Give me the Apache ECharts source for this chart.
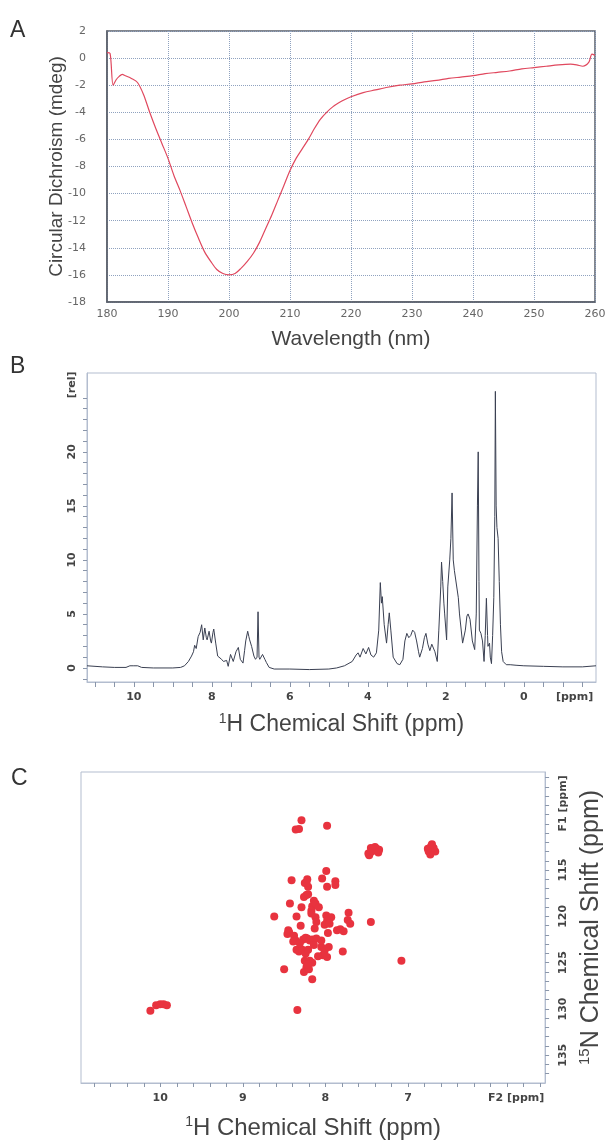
<!DOCTYPE html>
<html><head><meta charset="utf-8">
<script src="https://cdn.jsdelivr.net/npm/echarts@6/dist/echarts.min.js"></script>
<style>html,body{margin:0;padding:0;background:#fff}#c{width:613px;height:1143px}</style>
</head><body><div id="c"></div>
<script>
// ---- Panel A: circular dichroism ----
const cdWavelength = [180,180.5,181,181.5,182,182.5,183,184,185,186,187,188,189,190,191,192,193,194,195,196,197,198,199,200,201,202,203,204,205,206,207,208,209,210,211,212,213,214,215,216,217,218,219,220,222,224,226,228,230,232,234,236,238,240,242,244,246,248,250,252,254,256,257,258,259,259.5,260];
const cdValue = [0.4,0.35,-2.0,-1.6,-1.35,-1.2,-1.3,-1.5,-1.8,-2.7,-4.0,-5.2,-6.3,-7.4,-8.7,-9.8,-11.0,-12.2,-13.3,-14.3,-15.0,-15.6,-15.9,-16.0,-15.9,-15.5,-15.0,-14.4,-13.6,-12.6,-11.6,-10.5,-9.4,-8.3,-7.4,-6.7,-6.0,-5.2,-4.5,-4.0,-3.6,-3.3,-3.05,-2.85,-2.55,-2.35,-2.15,-2.0,-1.9,-1.75,-1.65,-1.5,-1.4,-1.3,-1.15,-1.05,-0.95,-0.8,-0.7,-0.6,-0.5,-0.45,-0.5,-0.6,-0.3,0.3,0.2];
const cdXTicks = [180,190,200,210,220,230,240,250,260];
const cdYTicks = [-18,-16,-14,-12,-10,-8,-6,-4,-2,0,2];

// ---- Panel B: 1H NMR ----
const nmrPpm = [11.2,10.8,10.5,10.2,10.1,10.05,10.0,9.95,9.9,9.87,9.8,9.5,9.0,8.8,8.7,8.6,8.52,8.47,8.44,8.4,8.35,8.3,8.26,8.22,8.18,8.14,8.12,8.07,8.03,8.01,7.97,7.95,7.9,7.85,7.8,7.75,7.7,7.67,7.62,7.58,7.52,7.45,7.38,7.32,7.27,7.2,7.16,7.13,7.08,7.05,7.03,6.98,6.92,6.88,6.84,6.815,6.79,6.77,6.7,6.64,6.6,6.53,6.4,6.0,5.5,5.0,4.8,4.6,4.4,4.3,4.25,4.2,4.12,4.05,3.98,3.92,3.85,3.78,3.72,3.68,3.65,3.63,3.58,3.52,3.48,3.45,3.41,3.35,3.25,3.18,3.1,3.05,3.0,2.95,2.9,2.85,2.8,2.75,2.7,2.67,2.6,2.55,2.51,2.46,2.41,2.36,2.33,2.28,2.22,2.18,2.13,2.11,2.08,2.05,2.03,1.98,1.95,1.9,1.87,1.84,1.81,1.78,1.73,1.68,1.65,1.57,1.5,1.46,1.43,1.38,1.32,1.26,1.22,1.19,1.17,1.15,1.14,1.1,1.06,1.02,0.99,0.96,0.93,0.92,0.88,0.86,0.83,0.8,0.77,0.745,0.73,0.71,0.69,0.66,0.63,0.6,0.57,0.53,0.45,0.35,0.2,0.0,-0.5,-1.0,-1.5,-1.85];
const nmrIntensity = [0.2,0.1,0.05,0.05,0.2,0.35,0.2,0.35,0.2,0.3,0.05,0.0,0.0,0.05,0.2,0.6,1.1,1.5,2.1,1.8,2.9,3.3,4.0,2.6,3.7,2.8,2.6,3.4,2.5,2.3,3.3,3.6,2.3,1.1,1.0,0.8,0.6,0.45,0.7,0.15,1.25,0.6,1.5,1.9,0.8,0.45,1.6,2.5,3.4,2.9,2.6,2.0,1.1,0.8,1.0,5.2,1.0,0.8,1.25,0.8,0.5,0.05,-0.1,-0.1,-0.15,-0.1,0.0,0.2,0.6,1.2,1.4,1.0,1.8,1.3,1.9,1.2,1.0,1.4,3.5,7.9,6.0,6.6,4.0,2.3,4.0,5.1,3.5,1.0,0.4,0.3,0.8,2.5,3.2,2.8,3.0,3.5,3.3,2.5,1.5,1.0,1.8,2.8,3.2,2.2,1.6,2.2,2.3,1.5,0.6,3.5,7.5,9.8,8.0,6.0,5.0,2.6,7.5,10,12,16.2,10,9.0,8.9,6.5,5.0,2.3,3.5,4.8,5.0,4.5,2.5,1.7,5,15,20.0,8,3.5,3.2,2.5,0.6,3.0,6.45,3.0,2.0,2.3,1.0,0.4,3.0,6.5,14,25.6,15,13,12,8,4,1.5,0.6,0.3,0.3,0.25,0.2,0.15,0.1,0.1,0.2];
const nmrXLabels = [10,8,6,4,2,0];
const nmrYLabels = [0,5,10,15,20];

// ---- Panel C: 1H-15N HSQC ----
const hsqcH = [8.29,8.36,8.32,7.98,7.48,7.45,7.42,7.38,7.35,7.47,7.44,7.40,7.36,6.75,6.72,6.70,6.67,6.73,6.69,6.76,6.71,7.99,8.04,8.41,8.22,8.25,8.21,8.23,7.88,7.88,7.98,8.23,8.26,8.21,8.14,8.16,8.17,8.12,8.43,8.29,8.62,8.35,8.17,8.12,8.11,7.99,7.93,7.98,8.01,7.95,7.72,7.73,7.70,7.45,8.45,8.46,8.44,8.38,8.36,8.39,8.27,8.22,8.16,8.11,8.24,8.19,8.13,7.97,7.86,7.82,7.78,8.35,8.32,8.28,8.24,8.21,8.05,8.01,8.03,7.96,7.79,7.98,8.25,8.19,8.23,8.26,8.20,8.16,8.22,8.50,7.08,8.16,8.34,8.30,8.08,8.05,8.31,8.09,8.14,10.12,10.05,10.00,9.96,9.92];
const hsqcN = [109.6,110.6,110.55,110.2,113.2,112.6,112.8,112.7,112.8,113.4,113.0,112.5,113.1,113.0,112.4,112.8,113.0,113.3,112.6,112.7,112.2,115.1,115.9,116.1,116.0,116.4,116.8,116.3,116.2,116.6,116.8,117.7,117.9,117.6,118.3,118.9,119.4,118.6,118.6,119.0,120.0,120.0,119.7,120.1,120.6,119.9,120.1,120.5,120.9,120.8,119.6,120.4,120.8,120.6,121.5,121.9,121.7,122.1,122.6,122.7,122.5,122.4,122.5,122.4,122.3,122.6,121.3,121.8,121.5,121.4,121.6,123.6,123.8,123.6,124.0,123.6,123.3,123.7,124.2,123.3,123.8,124.4,124.8,124.8,125.5,126.0,125.7,125.0,125.2,125.7,124.8,126.8,130.1,121.0,119.0,122.6,122.9,124.3,123.1,130.2,129.6,129.5,129.5,129.6];
const hsqcXLabels = [10,9,8,7];
const hsqcYLabels = [115,120,125,130,135];

function range(a, b, step) { const r = []; const n = Math.round((b - a) / step); for (let i = 0; i <= n; i++) r.push(+(a + i * step).toFixed(3)); return r; }

const titleFont = 'Liberation Sans';
const tickFont = 'DejaVu Sans';
const frameC = '#b3bdcf';

const chart = echarts.init(document.getElementById('c'), null, { renderer: 'canvas' });
chart.setOption({
  animation: false,
  backgroundColor: '#ffffff',
  graphic: [
    { type: 'text', left: 10, top: 19, style: { text: 'A', fontSize: 23, fontFamily: titleFont, fill: '#333' } },
    { type: 'text', left: 10, top: 355, style: { text: 'B', fontSize: 23, fontFamily: titleFont, fill: '#333' } },
    { type: 'text', left: 11, top: 767, style: { text: 'C', fontSize: 23, fontFamily: titleFont, fill: '#333' } }
  ],
  grid: [
    { left: 107, top: 31, width: 488, height: 271, show: true, borderColor: '#5a5f6a', borderWidth: 1.5, backgroundColor: 'transparent' },
    { left: 87, top: 373, width: 509, height: 309, show: true, borderColor: frameC, borderWidth: 1, backgroundColor: 'transparent' },
    { left: 81, top: 772, width: 472, height: 317, show: true, borderColor: frameC, borderWidth: 1, backgroundColor: 'transparent' }
  ],
  xAxis: [
    {
      gridIndex: 0, type: 'value', min: 180, max: 260, interval: 10,
      axisLine: { show: true, onZero: false, lineStyle: { color: '#5a5f6a', width: 1.5 } },
      axisTick: { show: false },
      axisLabel: { color: '#666', fontSize: 11, fontFamily: tickFont, margin: 7 },
      splitLine: { show: true, lineStyle: { type: 'dotted', color: '#8fa2bf', width: 1 } },
      name: 'Wavelength (nm)', nameLocation: 'middle', nameGap: 27,
      nameTextStyle: { fontSize: 21, fontFamily: titleFont, color: '#444' }
    },
    {
      gridIndex: 1, type: 'value', min: -1.85, max: 11.2, inverse: true,
      axisLine: { show: true, onZero: false, lineStyle: { color: frameC } },
      axisTick: { show: true, length: 5, customValues: range(-1.5, 11, 0.5), lineStyle: { color: '#8a96aa' } },
      axisLabel: { customValues: nmrXLabels.concat([-1.3]), color: '#444', fontSize: 11, fontWeight: 'bold', fontFamily: tickFont, margin: 10,
        formatter: v => (Math.abs(v + 1.3) < 1e-6 ? '[ppm]' : String(v)) },
      splitLine: { show: false },
      name: '{s|1}H Chemical Shift (ppm)', nameLocation: 'middle', nameGap: 30,
      nameTextStyle: { fontSize: 23, fontFamily: titleFont, color: '#444', lineHeight: 26,
        rich: { s: { fontSize: 14, fontFamily: titleFont, color: '#444', verticalAlign: 'top', lineHeight: 14 } } }
    },
    {
      gridIndex: 2, type: 'value', min: 5.34, max: 10.96, inverse: true,
      axisLine: { show: true, onZero: false, lineStyle: { color: frameC } },
      axisTick: { show: true, length: 4, customValues: range(5.4, 10.8, 0.2), lineStyle: { color: '#8a96aa' } },
      axisLabel: { customValues: hsqcXLabels.concat([5.69]), color: '#444', fontSize: 11, fontWeight: 'bold', fontFamily: tickFont, margin: 10,
        formatter: v => (Math.abs(v - 5.69) < 1e-6 ? 'F2 [ppm]' : String(v)) },
      splitLine: { show: false },
      name: '{s|1}H Chemical Shift (ppm)', nameLocation: 'middle', nameGap: 32,
      nameTextStyle: { fontSize: 24, fontFamily: titleFont, color: '#444', lineHeight: 27,
        rich: { s: { fontSize: 14, fontFamily: titleFont, color: '#444', verticalAlign: 'top', lineHeight: 14 } } }
    }
  ],
  yAxis: [
    {
      gridIndex: 0, type: 'value', min: -18, max: 2, interval: 2,
      axisLine: { show: true, onZero: false, lineStyle: { color: '#5a5f6a', width: 1.5 } },
      axisTick: { show: false },
      axisLabel: { color: '#666', fontSize: 11, fontFamily: tickFont, margin: 21 },
      splitLine: { show: true, lineStyle: { type: 'dotted', color: '#8fa2bf', width: 1 } },
      name: 'Circular Dichroism (mdeg)', nameLocation: 'middle', nameGap: 41, nameMoveOverlap: false,
      nameTextStyle: { fontSize: 19, fontFamily: titleFont, color: '#444' }
    },
    {
      gridIndex: 1, type: 'value', min: -1.3, max: 27.3,
      axisLine: { show: true, onZero: false, lineStyle: { color: frameC } },
      axisTick: { show: true, length: 4, customValues: range(-1, 25, 1), lineStyle: { color: '#8a96aa' } },
      axisLabel: { customValues: nmrYLabels.concat([26.2]), rotate: 90, color: '#444', fontSize: 11, fontWeight: 'bold', fontFamily: tickFont, margin: 9,
        formatter: v => (Math.abs(v - 26.2) < 1e-6 ? '[rel]' : String(v)) },
      splitLine: { show: false }
    },
    {
      gridIndex: 2, type: 'value', position: 'right', min: 104.4, max: 138, inverse: true,
      axisLine: { show: true, onZero: false, lineStyle: { color: frameC } },
      axisTick: { show: true, length: 4, customValues: range(105, 137, 1), lineStyle: { color: '#8a96aa' } },
      axisLabel: { customValues: hsqcYLabels.concat([107.8]), rotate: 90, color: '#444', fontSize: 11, fontWeight: 'bold', fontFamily: tickFont, margin: 13,
        formatter: v => (Math.abs(v - 107.8) < 1e-6 ? 'F1 [ppm]' : String(v)) },
      splitLine: { show: false },
      name: '{s|15}N Chemical Shift (ppm)', nameLocation: 'middle', nameGap: 26,
      nameTextStyle: { fontSize: 25, fontFamily: titleFont, color: '#444', lineHeight: 28,
        rich: { s: { fontSize: 15, fontFamily: titleFont, color: '#444', verticalAlign: 'top', lineHeight: 15 } } }
    }
  ],
  series: [
    {
      type: 'line', xAxisIndex: 0, yAxisIndex: 0, showSymbol: false, smooth: 0.3,
      lineStyle: { color: '#e0485e', width: 1.2 },
      data: cdWavelength.map((w, i) => [w, cdValue[i]])
    },
    {
      type: 'line', xAxisIndex: 1, yAxisIndex: 1, showSymbol: false,
      lineStyle: { color: '#3a4052', width: 1 },
      data: nmrPpm.map((p, i) => [p, nmrIntensity[i]])
    },
    {
      type: 'scatter', xAxisIndex: 2, yAxisIndex: 2, symbolSize: 8,
      itemStyle: { color: '#e8333f', opacity: 1 },
      data: hsqcH.map((h, i) => [h, hsqcN[i]])
    }
  ]
});
</script>
</body></html>
